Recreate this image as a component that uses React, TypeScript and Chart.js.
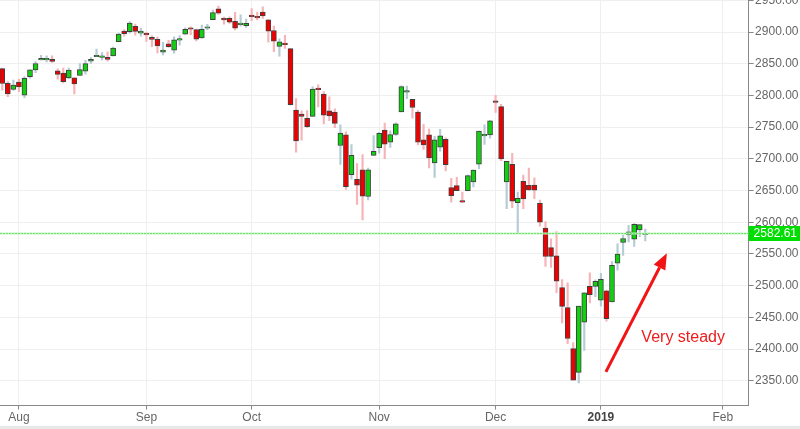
import React, { useEffect, useRef } from 'react';
import { Chart, registerables } from 'chart.js';

Chart.register(...registerables);

const FONT = "'Liberation Sans', Arial, Helvetica, sans-serif";

const dates = [
  '2018-07-27', '2018-07-30', '2018-07-31',
  '2018-08-01', '2018-08-02', '2018-08-03', '2018-08-06', '2018-08-07', '2018-08-08', '2018-08-09', '2018-08-10',
  '2018-08-13', '2018-08-14', '2018-08-15', '2018-08-16', '2018-08-17', '2018-08-20', '2018-08-21', '2018-08-22',
  '2018-08-23', '2018-08-24', '2018-08-27', '2018-08-28', '2018-08-29', '2018-08-30', '2018-08-31',
  '2018-09-04', '2018-09-05', '2018-09-06', '2018-09-07', '2018-09-10', '2018-09-11', '2018-09-12', '2018-09-13',
  '2018-09-14', '2018-09-17', '2018-09-18', '2018-09-19', '2018-09-20', '2018-09-21', '2018-09-24', '2018-09-25',
  '2018-09-26', '2018-09-27', '2018-09-28',
  '2018-10-01', '2018-10-02', '2018-10-03', '2018-10-04', '2018-10-05', '2018-10-08', '2018-10-09', '2018-10-10',
  '2018-10-11', '2018-10-12', '2018-10-15', '2018-10-16', '2018-10-17', '2018-10-18', '2018-10-19', '2018-10-22',
  '2018-10-23', '2018-10-24', '2018-10-25', '2018-10-26', '2018-10-29', '2018-10-30', '2018-10-31',
  '2018-11-01', '2018-11-02', '2018-11-05', '2018-11-06', '2018-11-07', '2018-11-08', '2018-11-09', '2018-11-12',
  '2018-11-13', '2018-11-14', '2018-11-15', '2018-11-16', '2018-11-19', '2018-11-20', '2018-11-21', '2018-11-23',
  '2018-11-26', '2018-11-27', '2018-11-28', '2018-11-29', '2018-11-30',
  '2018-12-03', '2018-12-04', '2018-12-06', '2018-12-07', '2018-12-10', '2018-12-11', '2018-12-12', '2018-12-13',
  '2018-12-14', '2018-12-17', '2018-12-18', '2018-12-19', '2018-12-20', '2018-12-21', '2018-12-24', '2018-12-26',
  '2018-12-27', '2018-12-28', '2018-12-31',
  '2019-01-02', '2019-01-03', '2019-01-04', '2019-01-07', '2019-01-08', '2019-01-09', '2019-01-10', '2019-01-11',
  '2019-01-14',
];

const openPrices = [
  2842.35, 2819.00, 2809.73,
  2821.17, 2800.48, 2829.62, 2840.29, 2855.92, 2856.79, 2857.19, 2838.90, 2835.46, 2827.88, 2827.95, 2831.44,
  2838.32, 2853.93, 2861.51, 2860.99, 2860.29, 2862.35, 2884.69, 2901.45, 2900.62, 2908.94, 2898.37,
  2896.96, 2891.59, 2888.64, 2868.26, 2881.39, 2871.57, 2888.29, 2896.85, 2906.38, 2903.83, 2890.74, 2906.60,
  2919.73, 2936.48, 2921.83, 2921.75, 2916.98, 2911.65, 2910.03,
  2926.29, 2923.80, 2931.69, 2919.35, 2902.54, 2877.53, 2882.51, 2873.90, 2776.87, 2770.54, 2763.83, 2767.05,
  2811.67, 2802.00, 2775.66, 2773.94, 2721.03, 2737.87, 2674.88, 2667.86, 2682.65, 2640.68, 2705.60,
  2717.58, 2745.45, 2726.37, 2738.40, 2774.13, 2806.38, 2794.10, 2773.93, 2730.05, 2737.90, 2693.52, 2718.54,
  2730.74, 2654.60, 2657.74, 2633.36, 2649.97, 2663.75, 2691.45, 2736.97, 2737.76,
  2790.50, 2782.43, 2663.51, 2691.26, 2630.86, 2664.44, 2658.23, 2658.70, 2629.68, 2590.75, 2559.90, 2547.05,
  2496.77, 2465.38, 2400.56, 2363.12, 2442.50, 2498.77, 2498.94,
  2476.96, 2491.92, 2474.33, 2535.61, 2568.11, 2580.00, 2573.51, 2588.11, 2580.31,
];

const highPrices = [
  2843.17, 2821.74, 2824.46,
  2825.83, 2829.91, 2840.38, 2853.29, 2863.43, 2862.44, 2862.48, 2842.20, 2843.40, 2843.11, 2827.95, 2850.49,
  2855.63, 2859.76, 2873.23, 2867.54, 2868.78, 2876.16, 2898.25, 2903.77, 2916.50, 2912.46, 2906.32,
  2900.18, 2894.21, 2892.05, 2883.81, 2886.93, 2892.52, 2894.65, 2906.76, 2908.30, 2904.65, 2911.17, 2912.36,
  2934.80, 2940.91, 2923.79, 2923.95, 2931.15, 2927.22, 2920.53,
  2937.06, 2931.42, 2939.86, 2919.78, 2909.64, 2889.45, 2894.83, 2874.02, 2795.14, 2775.77, 2775.99, 2813.46,
  2816.94, 2806.04, 2797.77, 2778.94, 2753.59, 2742.59, 2722.70, 2692.38, 2706.85, 2685.43, 2736.69,
  2741.67, 2756.55, 2744.27, 2756.82, 2815.15, 2814.75, 2794.10, 2775.99, 2754.60, 2746.80, 2735.38, 2746.75,
  2733.16, 2669.44, 2670.73, 2647.55, 2674.35, 2682.53, 2744.00, 2753.75, 2760.88,
  2800.18, 2785.93, 2696.15, 2708.54, 2647.51, 2674.35, 2685.44, 2670.19, 2635.07, 2601.13, 2573.99, 2585.29,
  2509.63, 2504.41, 2410.34, 2467.76, 2489.10, 2520.27, 2509.24,
  2519.49, 2493.14, 2538.07, 2566.16, 2579.82, 2595.32, 2597.82, 2596.27, 2589.32,
];

const lowPrices = [
  2808.34, 2798.11, 2808.06,
  2805.85, 2796.34, 2827.37, 2835.98, 2855.92, 2853.09, 2851.98, 2825.81, 2819.88, 2826.58, 2802.49, 2831.44,
  2833.73, 2850.62, 2861.32, 2856.05, 2854.03, 2862.35, 2884.69, 2893.50, 2898.40, 2895.22, 2893.67,
  2885.13, 2876.92, 2867.29, 2864.12, 2875.94, 2866.78, 2879.20, 2896.39, 2895.77, 2886.16, 2890.43, 2903.82,
  2919.73, 2927.76, 2912.63, 2913.70, 2903.28, 2909.27, 2907.50,
  2917.91, 2919.37, 2921.36, 2883.92, 2869.29, 2862.08, 2874.27, 2784.86, 2710.51, 2729.44, 2749.03, 2766.91,
  2781.81, 2755.18, 2760.27, 2749.22, 2691.43, 2651.89, 2667.84, 2628.16, 2603.54, 2635.34, 2705.60,
  2708.85, 2700.44, 2717.94, 2737.08, 2774.13, 2794.99, 2764.24, 2722.00, 2714.98, 2685.75, 2670.75, 2712.16,
  2681.09, 2631.52, 2649.82, 2631.09, 2649.97, 2655.89, 2684.38, 2722.94, 2732.76,
  2773.38, 2697.18, 2621.53, 2623.14, 2583.23, 2621.30, 2650.26, 2637.27, 2593.84, 2530.54, 2528.71, 2488.96,
  2441.18, 2408.55, 2351.10, 2346.58, 2397.94, 2472.89, 2482.82,
  2467.47, 2443.96, 2474.33, 2524.56, 2547.56, 2568.89, 2562.02, 2577.40, 2570.41,
];

const closePrices = [
  2818.82, 2802.60, 2816.29,
  2813.36, 2827.22, 2840.35, 2850.40, 2858.45, 2857.70, 2853.58, 2833.28, 2821.93, 2839.96, 2818.37, 2840.69,
  2850.13, 2857.05, 2862.96, 2861.82, 2856.98, 2874.69, 2896.74, 2897.52, 2914.04, 2901.13, 2901.52,
  2896.72, 2888.60, 2878.05, 2871.68, 2877.13, 2887.89, 2888.92, 2904.18, 2904.98, 2888.80, 2904.31, 2907.95,
  2930.75, 2929.67, 2919.37, 2915.56, 2905.97, 2914.00, 2913.98,
  2924.59, 2923.43, 2925.51, 2901.61, 2885.57, 2884.43, 2880.34, 2785.68, 2728.37, 2767.13, 2750.79, 2809.92,
  2809.21, 2768.78, 2767.78, 2755.88, 2740.69, 2656.10, 2705.57, 2658.69, 2641.25, 2682.63, 2711.74,
  2740.37, 2723.06, 2738.31, 2755.45, 2813.89, 2806.83, 2781.01, 2726.22, 2722.18, 2701.58, 2730.20, 2736.27,
  2690.73, 2641.89, 2649.93, 2632.56, 2673.45, 2682.17, 2743.79, 2737.80, 2760.17,
  2790.37, 2700.06, 2695.95, 2633.08, 2637.72, 2636.78, 2651.07, 2650.54, 2599.95, 2545.94, 2546.16, 2506.96,
  2467.42, 2416.62, 2351.10, 2467.70, 2488.83, 2485.74, 2506.85,
  2510.03, 2447.89, 2531.94, 2549.69, 2574.41, 2584.96, 2596.64, 2596.26, 2582.61,
];

// month tick positions (trading-day index) and labels
const monthTickIndex = [3, 26, 45, 68, 89, 108, 130];
const monthTickLabels = ['Aug', 'Sep', 'Oct', 'Nov', 'Dec', '2019', 'Feb'];
const boldTickLabel = '2019';

const priceTicks = [2350, 2400, 2450, 2500, 2550, 2600, 2650, 2700, 2750, 2800, 2850, 2900, 2950];
const lastPrice = 2582.61;

const annotationText = 'Very steady';
const arrowFrom = { x: 108.9, y: 2364 };
const arrowTo = { x: 119.9, y: 2551 };
const textAt = { x: 115.3, y: 2418.5 };

const UP_FILL = '#10d010';
const DOWN_FILL = '#ee0000';
const BODY_BORDER = '#404040';
const UP_WICK = '#b4ccd4';
const DOWN_WICK = '#f6b4b8';

const overlayPlugin = {
  id: 'overlay',
  afterDatasetsDraw(chart: any) {
    const { ctx, chartArea, scales } = chart;
    const y = Math.round(scales.y.getPixelForValue(lastPrice));
    ctx.save();
    // soft light-green band
    ctx.fillStyle = '#c4f4c4';
    ctx.fillRect(chartArea.left, y - 0.5, chartArea.right - chartArea.left, 2);
    // dotted core
    ctx.strokeStyle = '#6ee06e';
    ctx.lineWidth = 1;
    ctx.setLineDash([2, 1]);
    ctx.beginPath();
    ctx.moveTo(chartArea.left, y + 0.5);
    ctx.lineTo(chartArea.right, y + 0.5);
    ctx.stroke();
    ctx.restore();
  },
  afterDraw(chart: any) {
    const { ctx, chartArea, scales, width } = chart;
    const xs = scales.x;
    const ys = scales.y;
    // price label box
    const y = Math.round(ys.getPixelForValue(lastPrice)) + 0.5;
    ctx.save();
    ctx.fillStyle = '#00dd00';
    ctx.fillRect(chartArea.right, y - 7.5, width - chartArea.right, 15);
    ctx.fillStyle = '#ffffff';
    ctx.font = `12px ${FONT}`;
    ctx.textBaseline = 'middle';
    ctx.textAlign = 'left';
    ctx.fillText(lastPrice.toFixed(2), chartArea.right + 5, y + 0.5);

    // arrow
    const x1 = xs.getPixelForValue(arrowFrom.x);
    const y1 = ys.getPixelForValue(arrowFrom.y);
    const x2 = xs.getPixelForValue(arrowTo.x);
    const y2 = ys.getPixelForValue(arrowTo.y);
    const ang = Math.atan2(y2 - y1, x2 - x1);
    const headLen = 16;
    const headHalf = 6.5;
    const bx = x2 - headLen * Math.cos(ang);
    const by = y2 - headLen * Math.sin(ang);
    ctx.strokeStyle = '#f21414';
    ctx.fillStyle = '#f21414';
    ctx.lineWidth = 3;
    ctx.beginPath();
    ctx.moveTo(x1, y1);
    ctx.lineTo(bx, by);
    ctx.stroke();
    ctx.beginPath();
    ctx.moveTo(x2, y2);
    ctx.lineTo(bx + headHalf * Math.sin(ang), by - headHalf * Math.cos(ang));
    ctx.lineTo(bx - headHalf * Math.sin(ang), by + headHalf * Math.cos(ang));
    ctx.closePath();
    ctx.fill();

    // text
    ctx.fillStyle = '#ee1c1c';
    ctx.font = `16px ${FONT}`;
    ctx.textBaseline = 'middle';
    ctx.textAlign = 'left';
    ctx.fillText(annotationText, xs.getPixelForValue(textAt.x), ys.getPixelForValue(textAt.y));
    ctx.restore();
  },
};

export default function App() {
  const ref = useRef<HTMLCanvasElement>(null);

  useEffect(() => {
    const canvas = ref.current;
    if (!canvas) return;

    const isUp = dates.map((_, i) => closePrices[i] > openPrices[i]);
    const bodies = dates.map((_, i) => {
      let o = openPrices[i];
      let c = closePrices[i];
      if (Math.abs(o - c) < 2.4) {
        const m = (o + c) / 2;
        o = m - 1.2;
        c = m + 1.2;
      }
      return { x: i, y: [Math.min(o, c), Math.max(o, c)] };
    });
    const wicks = dates.map((_, i) => ({ x: i, y: [lowPrices[i], highPrices[i]] }));

    const chart = new Chart(canvas, {
      type: 'bar',
      data: {
        datasets: [
          {
            label: 'body',
            data: bodies as any,
            backgroundColor: isUp.map((u) => (u ? UP_FILL : DOWN_FILL)),
            borderColor: BODY_BORDER,
            borderWidth: 1,
            borderSkipped: false,
            barThickness: 5,
            grouped: false,
            order: 1,
          } as any,
          {
            label: 'wick',
            data: wicks as any,
            backgroundColor: isUp.map((u) => (u ? UP_WICK : DOWN_WICK)),
            borderWidth: 0,
            barThickness: 1.5,
            grouped: false,
            order: 2,
          } as any,
        ],
      },
      options: {
        animation: false,
        responsive: false,
        maintainAspectRatio: false,
        layout: { padding: 0 },
        plugins: {
          legend: { display: false },
          tooltip: { enabled: false },
        },
        scales: {
          x: {
            type: 'linear',
            min: -0.41,
            max: 134.65,
            offset: false,
            afterBuildTicks: (s: any) => {
              s.ticks = monthTickIndex.map((v) => ({ value: v }));
            },
            ticks: {
              autoSkip: false,
              maxRotation: 0,
              padding: 1,
              callback: (v: any) => {
                const k = monthTickIndex.indexOf(Number(v));
                return k >= 0 ? monthTickLabels[k] : '';
              },
              color: (ctx: any) =>
                ctx.tick && monthTickLabels[monthTickIndex.indexOf(ctx.tick.value)] === boldTickLabel ? '#444' : '#666',
              font: (ctx: any) => ({
                family: FONT,
                size: 12,
                weight:
                  ctx.tick && monthTickLabels[monthTickIndex.indexOf(ctx.tick.value)] === boldTickLabel
                    ? 'bold'
                    : 'normal',
              }),
            },
            grid: {
              offset: false,
              color: '#efefef',
              tickColor: '#888',
              tickLength: 4,
              drawTicks: true,
            },
            border: { color: '#888', width: 1 },
          } as any,
          y: {
            type: 'linear',
            position: 'right',
            min: 2310.8,
            max: 2950.6,
            afterBuildTicks: (s: any) => {
              s.ticks = priceTicks.map((v) => ({ value: v }));
            },
            afterFit: (s: any) => {
              s.paddingTop = 0;
              s.paddingBottom = 0;
            },
            ticks: {
              padding: 1.5,
              color: '#666',
              font: { family: FONT, size: 12 },
              callback: (v: any) => Number(v).toFixed(2),
            },
            grid: {
              color: '#efefef',
              tickColor: '#888',
              tickLength: 5,
              drawTicks: true,
            },
            border: { color: '#888', width: 1 },
          } as any,
        },
      },
      plugins: [overlayPlugin],
    });

    return () => chart.destroy();
  }, []);

  return (
    <div
      style={{
        position: 'fixed',
        left: 0,
        top: 0,
        width: 800,
        height: 429,
        background: '#e8e8e8',
        overflow: 'hidden',
      }}
    >
      <div style={{ width: 800, height: 426, background: '#ffffff' }}>
        <canvas ref={ref} width={800} height={426} style={{ display: 'block', width: 800, height: 426 }} />
      </div>
    </div>
  );
}
